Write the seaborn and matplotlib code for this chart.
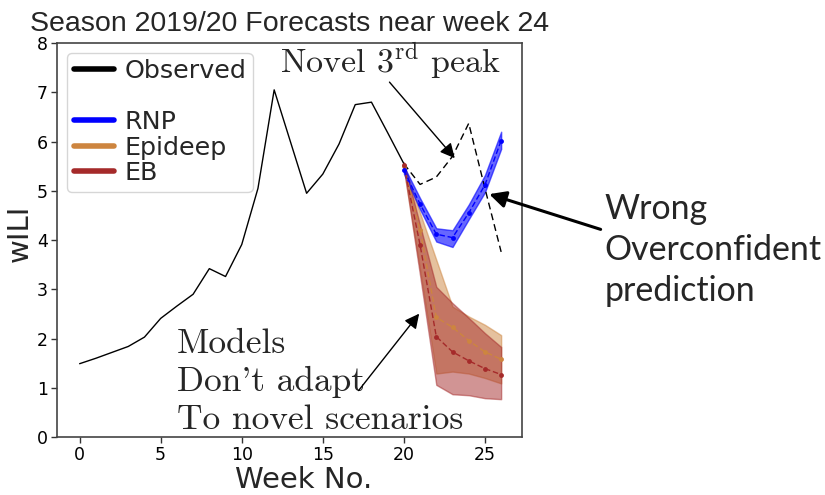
import numpy as np
import pandas as pd
import matplotlib
matplotlib.use("Agg")
import matplotlib.pyplot as plt
from matplotlib.lines import Line2D
import seaborn as sns

# ---------------- data ----------------
obs_weeks = list(range(0, 21))
obs_vals = [1.49, 1.60, 1.72, 1.84, 2.03, 2.41, 2.66, 2.90, 3.42, 3.26, 3.91,
            5.05, 7.05, 6.00, 4.95, 5.34, 5.95, 6.75, 6.80, 6.18, 5.55]
fut_weeks = [20, 21, 22, 23, 24, 25, 26]
fut_vals = [5.55, 5.13, 5.28, 5.70, 6.37, 5.05, 3.76]

fc_weeks = [20, 21, 22, 23, 24, 25, 26]
rnp_mean = [5.42, 4.73, 4.12, 4.05, 4.55, 5.12, 6.02]
rnp_lo = [5.35, 4.62, 3.97, 3.86, 4.42, 4.97, 5.85]
rnp_hi = [5.50, 4.85, 4.24, 4.20, 4.72, 5.32, 6.20]

epi_mean = [5.50, 4.20, 2.43, 2.23, 1.96, 1.73, 1.58]
epi_lo = [5.45, 3.40, 1.29, 1.33, 1.29, 1.20, 1.09]
epi_hi = [5.55, 4.55, 3.60, 2.65, 2.45, 2.28, 2.07]

eb_mean = [5.52, 3.90, 2.04, 1.73, 1.55, 1.39, 1.27]
eb_lo = [5.45, 3.28, 1.06, 0.87, 0.85, 0.79, 0.77]
eb_hi = [5.58, 4.30, 3.05, 2.72, 2.42, 2.11, 1.83]

legend_labels = ["Observed", " ", "RNP", "Epideep", "EB"]

C_RNP = "#0000ff"
C_EPI = "#cd853f"
C_EB = "#a52a2a"

# ---------------- style ----------------
sns.set_style("ticks")
plt.rcParams["font.family"] = ["DejaVu Sans"]
plt.rcParams["mathtext.fontset"] = "cm"

fig = plt.figure(figsize=(8.25, 4.95), dpi=100)
ax = fig.add_axes([0.069, 0.117, 0.564, 0.796])

df_obs = pd.DataFrame({"week": obs_weeks, "val": obs_vals})
df_fut = pd.DataFrame({"week": fut_weeks, "val": fut_vals})
sns.lineplot(data=df_obs, x="week", y="val", color="black", lw=1.0, ax=ax)
sns.lineplot(data=df_fut, x="week", y="val", color="black", lw=1.0,
             linestyle=(0, (5, 3)), ax=ax)

for mean, lo, hi, col, a in [(epi_mean, epi_lo, epi_hi, C_EPI, 0.5),
                             (eb_mean, eb_lo, eb_hi, C_EB, 0.5),
                             (rnp_mean, rnp_lo, rnp_hi, C_RNP, 0.6)]:
    ax.fill_between(fc_weeks, lo, hi, facecolor=col, alpha=a,
                    edgecolor=col, lw=1.0)
    d = pd.DataFrame({"week": fc_weeks, "val": mean})
    sns.lineplot(data=d, x="week", y="val", color=col, lw=1.0,
                 linestyle=(0, (4, 2)), marker="o", markersize=3.5,
                 markeredgewidth=0, ax=ax)

ax.set_xlim(-1.4, 27.3)
ax.set_ylim(0, 8)
ax.set_xticks([0, 5, 10, 15, 20, 25])
ax.set_yticks(range(0, 9))
ax.tick_params(labelsize=12.5, length=4, width=1, colors="#333333",
               labelcolor="black", pad=2.5)
for s in ax.spines.values():
    s.set_color("#444444")
    s.set_linewidth(1.2)
ax.set_xlabel("Week No.", fontsize=21)
ax.xaxis.set_label_coords(0.531, -0.074)
ax.set_ylabel("wILI", fontsize=21)
ax.yaxis.set_label_coords(-0.05, 0.518)
ax.set_title("Season 2019/20 Forecasts near week 24", fontsize=20.5,
             family="Liberation Sans", pad=9)

handles = [Line2D([], [], color="black", lw=4),
           Line2D([], [], color="none", lw=0),
           Line2D([], [], color=C_RNP, lw=4),
           Line2D([], [], color=C_EPI, lw=4),
           Line2D([], [], color=C_EB, lw=4)]
ax.legend(handles, legend_labels, loc="upper left", fontsize=18.3,
          handlelength=1.6, labelspacing=0.06, borderpad=0.25,
          handletextpad=0.4, borderaxespad=0.0,
          bbox_to_anchor=(0.022, 0.975))

# ---------------- annotations ----------------
ax.text(19.2, 7.65, r"Novel 3$^{\mathrm{rd}}$ peak", family="cmr10",
        fontsize=24.5, ha="center", va="center")
ax.annotate("", xy=(23.25, 5.62), xytext=(19.0, 7.25),
            arrowprops=dict(arrowstyle="-|>", color="black", lw=1.0,
                            mutation_scale=22))
ax.text(6.0, 1.12, "Models\nDon't adapt\nTo novel scenarios", family="cmr10",
        fontsize=25.5, ha="left", va="center", linespacing=1.25)
ax.annotate("", xy=(21.05, 2.55), xytext=(17.1, 0.9),
            arrowprops=dict(arrowstyle="-|>", color="black", lw=1.0,
                            mutation_scale=22))

ax.annotate("", xy=(25.1, 4.95), xytext=(32.3, 4.2),
            arrowprops=dict(arrowstyle="-|>", color="black", lw=2.2,
                            mutation_scale=25),
            annotation_clip=False)
fig.text(0.733, 0.495, "Wrong\nOverconfident\nprediction", family="Lato",
         fontsize=24.4, ha="left", va="center", linespacing=1.36)

fig.savefig("out.png", dpi=100)
